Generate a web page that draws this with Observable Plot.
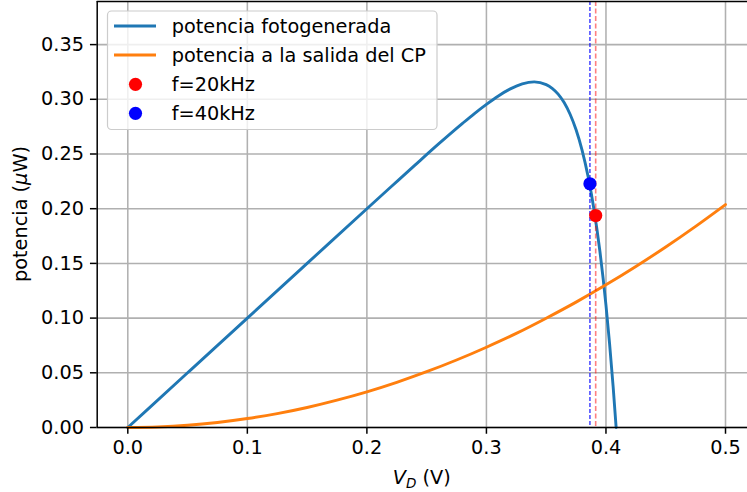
<!DOCTYPE html>
<html>
<head>
<meta charset="utf-8">
<script src="https://cdn.jsdelivr.net/npm/d3@7"></script>
<script src="https://cdn.jsdelivr.net/npm/@observablehq/plot@0.6"></script>
<style>
  html, body { margin: 0; padding: 0; background: #fff; }
  #chart { position: relative; width: 747px; height: 492px; font-family: "DejaVu Sans", sans-serif; }
  #chart svg { display: block; }
  #legend { position: absolute; left: 0; top: 0; pointer-events: none; }
</style>
</head>
<body>
<div id="chart"></div>
<script>
// Diode voltage (V) and photogenerated power (µW)
const vPhoto = [0, 0.05, 0.10, 0.15, 0.20, 0.22, 0.24, 0.26, 0.28, 0.29, 0.30, 0.31, 0.32, 0.33, 0.34,
                0.35, 0.355, 0.36, 0.365, 0.37, 0.375, 0.38, 0.385, 0.39, 0.395, 0.40, 0.403, 0.406, 0.4085];
const pPhoto = [0, 0.05, 0.10, 0.15, 0.20, 0.2198, 0.2396, 0.2592, 0.2780, 0.2870, 0.2954, 0.3031, 0.3095, 0.3141, 0.3159,
                0.3134, 0.3100, 0.3047, 0.2970, 0.2863, 0.2721, 0.2535, 0.2296, 0.1991, 0.1604, 0.1119, 0.0770, 0.0373, 0];

// Power delivered at the output of the charge pump (µW)
const vOut = [0, 0.025, 0.05, 0.075, 0.10, 0.125, 0.15, 0.175, 0.20, 0.225, 0.25, 0.275, 0.30,
              0.325, 0.35, 0.375, 0.40, 0.425, 0.45, 0.475, 0.50];
const pOut = [0, 0.0005, 0.0020, 0.0046, 0.0082, 0.0127, 0.0183, 0.0250, 0.0326, 0.0413, 0.0510, 0.0617, 0.0734,
              0.0860, 0.0999, 0.1146, 0.1304, 0.1472, 0.1650, 0.1839, 0.2038];

// Operating points for each switching frequency
const opLabels = ["f=20kHz", "f=40kHz"];
const opV = [0.3914, 0.3866];
const opP = [0.1938, 0.2228];
const opColors = ["red", "blue"];

// Axis ticks
const xTicks = [0, 0.1, 0.2, 0.3, 0.4, 0.5];
const yTicks = [0, 0.05, 0.10, 0.15, 0.20, 0.25, 0.30, 0.35];
const xDomain = [-0.0256, 0.5184];
const yDomain = [0, 0.3894];

// Legend entries
const legendLabels = ["potencia fotogenerada", "potencia a la salida del CP", "f=20kHz", "f=40kHz"];
const legendKinds = ["line", "line", "dot", "dot"];
const legendColors = ["#1f77b4", "#ff7f0e", "red", "blue"];

const photo = vPhoto.map((v, i) => ({v, p: pPhoto[i]}));
const output = vOut.map((v, i) => ({v, p: pOut[i]}));
const ops = opV.map((v, i) => ({v, p: opP[i], label: opLabels[i], color: opColors[i]}));

const FS = 19.3;
const DOT_R = 6.6;
const gridStyle = {stroke: "#b0b0b0", strokeOpacity: 1, strokeWidth: 1.55};
const spine = {stroke: "black", strokeWidth: 1.5};

const plot = Plot.plot({
  width: 747,
  height: 492,
  marginLeft: 96.7,
  marginRight: 0,
  marginTop: 1,
  marginBottom: 65,
  style: {fontFamily: "DejaVu Sans", fontSize: FS + "px", color: "black", background: "white"},
  x: {domain: xDomain},
  y: {domain: yDomain},
  marks: [
    Plot.gridX(xTicks, gridStyle),
    Plot.gridY(yTicks, gridStyle),
    Plot.line(photo, {x: "v", y: "p", stroke: "#1f77b4", strokeWidth: 2.9, curve: "monotone-x"}),
    Plot.line(output, {x: "v", y: "p", stroke: "#ff7f0e", strokeWidth: 2.9, curve: "monotone-x"}),
    Plot.ruleX(ops.filter(d => d.color === "red"), {x: "v", stroke: "red", strokeOpacity: 0.5, strokeWidth: 1.6, strokeDasharray: "5,2.5"}),
    Plot.ruleX(ops.filter(d => d.color === "blue"), {x: "v", stroke: "blue", strokeWidth: 1.1, strokeDasharray: "4,2"}),
    Plot.dot(ops, {x: "v", y: "p", fill: "color", r: DOT_R, stroke: "none"}),
    Plot.ruleX([xDomain[0]], spine),
    Plot.ruleY([yDomain[0]], spine),
    Plot.ruleY([yDomain[1]], spine),
    Plot.axisX(xTicks, {tickFormat: d3.format(".1f"), tickSize: 6.75, tickPadding: 6.5, fontSize: FS, label: null, strokeWidth: 1.5}),
    Plot.axisY(yTicks, {tickFormat: d3.format(".2f"), tickSize: 6.75, tickPadding: 6.5, fontSize: FS, label: null, strokeWidth: 1.5})
  ]
});

const chart = document.getElementById("chart");
chart.appendChild(plot);

// Axis titles with italic math symbols
const svg = d3.select(plot);
const xs = plot.scale("x"), ys = plot.scale("y");
const xMid = (xs.range[0] + xs.range[1]) / 2;
const yMid = (ys.range[0] + ys.range[1]) / 2;

const xl = svg.append("text")
  .attr("x", xMid).attr("y", 484)
  .attr("text-anchor", "middle")
  .attr("font-family", "DejaVu Sans").attr("font-size", FS)
  .attr("fill", "black");
xl.append("tspan").attr("font-style", "italic").text("V");
xl.append("tspan").attr("font-style", "italic").attr("font-size", FS * 0.7).attr("dy", 4).text("D");
xl.append("tspan").attr("dy", -4).text(" (V)");

const yl = svg.append("text")
  .attr("transform", `translate(21,${yMid}) rotate(-90)`)
  .attr("text-anchor", "middle")
  .attr("dominant-baseline", "middle")
  .attr("font-family", "DejaVu Sans").attr("font-size", FS)
  .attr("fill", "black");
yl.append("tspan").text("potencia (");
yl.append("tspan").attr("font-style", "italic").text("\u03bc");
yl.append("tspan").text("W)");

// Legend box drawn over the axes
const leg = d3.select(chart).append("svg")
  .attr("id", "legend").attr("width", 747).attr("height", 492);
leg.append("rect")
  .attr("x", 107.5).attr("y", 11).attr("width", 329.5).attr("height", 118.5)
  .attr("rx", 4).attr("fill", "white").attr("fill-opacity", 0.8)
  .attr("stroke", "#cccccc").attr("stroke-width", 1.2);
const rowY = [26, 55, 84.3, 113.3];
legendLabels.forEach((lab, i) => {
  const g = leg.append("g");
  if (legendKinds[i] === "line") {
    g.append("line").attr("x1", 114).attr("x2", 156).attr("y1", rowY[i]).attr("y2", rowY[i])
      .attr("stroke", legendColors[i]).attr("stroke-width", 2.9);
  } else {
    g.append("circle").attr("cx", 135.5).attr("cy", rowY[i]).attr("r", DOT_R).attr("fill", legendColors[i]);
  }
  g.append("text").attr("x", 171.7).attr("y", rowY[i])
    .attr("dominant-baseline", "central")
    .attr("font-family", "DejaVu Sans").attr("font-size", FS).attr("fill", "black")
    .text(lab);
});
</script>
</body>
</html>
